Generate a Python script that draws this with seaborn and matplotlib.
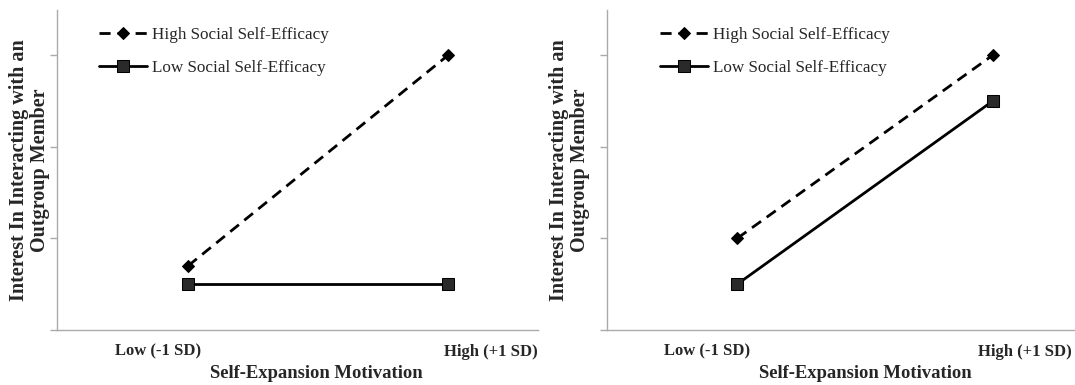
import numpy as np
import matplotlib.pyplot as plt
import pandas as pd
import seaborn as sns

sns.set_style('white')
plt.rcParams['font.family'] = ['Liberation Serif', 'DejaVu Serif']

# data (arbitrary units)
levels = [0, 1]
tick_labels = ['Low (-1 SD)', 'High (+1 SD)']
groups = ['High Social Self-Efficacy', 'Low Social Self-Efficacy']
left_high = [0.70, 3.0]
left_low = [0.50, 0.50]
right_high = [1.0, 3.0]
right_low = [0.50, 2.50]


def make_frame(high, low):
    return pd.DataFrame({
        'motivation': levels * 2,
        'interest': high + low,
        'group': [groups[0]] * 2 + [groups[1]] * 2,
    })


def draw_panel(ax, data, xlim, tick_pos, leg_x, xlab_x, ylab_x):
    sns.lineplot(ax=ax, data=data[data.group == groups[0]], x='motivation', y='interest',
                 color='black', linewidth=2, linestyle=(0, (4, 2.5)), marker='D',
                 markersize=6, markerfacecolor='black', markeredgecolor='black',
                 label=groups[0])
    sns.lineplot(ax=ax, data=data[data.group == groups[1]], x='motivation', y='interest',
                 color='black', linewidth=2, marker='s', markersize=8,
                 markerfacecolor='#2a2a2a', markeredgecolor='black', label=groups[1])
    ax.set_xlim(*xlim)
    ax.set_ylim(0, 3.49)
    ax.set_yticks([0, 1, 2, 3])
    ax.set_yticklabels([])
    ax.set_xticks(tick_pos)
    ax.set_xticklabels(tick_labels, fontsize=12, fontweight='bold')
    ax.tick_params(axis='x', length=0, pad=10)
    ax.tick_params(axis='y', length=5, width=1, color='#aaaaaa', direction='out', left=True)
    for side in ['top', 'right']:
        ax.spines[side].set_visible(False)
    for side in ['left', 'bottom']:
        ax.spines[side].set_color('#aaaaaa')
        ax.spines[side].set_linewidth(1)
    ax.set_xlabel('Self-Expansion Motivation', fontsize=13.4, fontweight='bold')
    ax.xaxis.set_label_coords(xlab_x, -0.11)
    ax.set_ylabel('Interest In Interacting with an\nOutgroup Member', fontsize=14.5,
                  fontweight='bold', linespacing=1.05)
    ax.yaxis.set_label_coords(ylab_x, 0.5)
    leg = ax.legend(loc='upper left', bbox_to_anchor=(leg_x, 0.994), frameon=False,
                    fontsize=12.3, handlelength=2.8, handletextpad=0.3, labelspacing=0.95)
    return leg


fig = plt.figure(figsize=(10.75, 3.85), dpi=100)
ax_left = fig.add_axes([0.053, 0.143, 0.447, 0.831])
ax_right = fig.add_axes([0.565, 0.143, 0.435, 0.831])

draw_panel(ax_left, make_frame(left_high, left_low), (-0.504, 1.342), [-0.115, 1.162],
           0.055, 0.54, -0.015)
draw_panel(ax_right, make_frame(right_high, right_low), (-0.508, 1.32), [-0.117, 1.125],
           0.08, 0.551, -0.038)

fig.savefig('out.png', dpi=100)
